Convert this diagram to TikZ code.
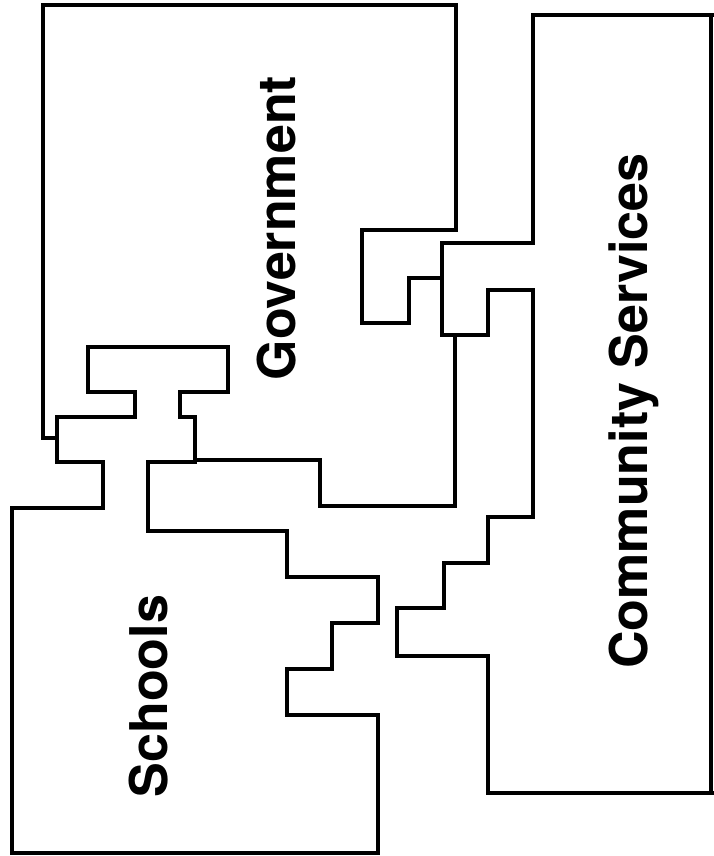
\documentclass[tikz,border=0pt]{standalone}
\usepackage{fontspec}
\setmainfont{TeX Gyre Heros}
\begin{document}
\begin{tikzpicture}[x=1pt,y=-1pt,
  edge/.style={line width=3.2pt,line join=miter,line cap=rect},
  lbl/.style={rotate=90,anchor=base,inner sep=0pt,font=\fontsize{52}{60}\selectfont\bfseries}]
\useasboundingbox (0,0) rectangle (714,856);
% Government outline
\draw[edge] (57,438) -- (43,438) -- (43,5) -- (456,5) -- (456,230) -- (362,230)
  -- (362,323) -- (409,323) -- (409,278) -- (442,278);
% Community Services outline
\draw[edge] (714,15) -- (533,15) -- (533,243) -- (442,243) -- (442,335) -- (488,335)
  -- (488,290) -- (533,290) -- (533,517) -- (488,517) -- (488,563) -- (444,563)
  -- (444,608) -- (397,608) -- (397,656) -- (488,656) -- (488,793) -- (714,793);
\draw[edge] (711,15) -- (711,793);
% Government lower edge, linking piece, and Schools outline
\draw[edge] (455,335) -- (455,506) -- (320,506) -- (320,460) -- (195,460)
  -- (195,417) -- (180,417) -- (180,392) -- (228,392) -- (228,347) -- (88,347)
  -- (88,392) -- (135,392) -- (135,417) -- (57,417) -- (57,462) -- (103,462)
  -- (103,508) -- (12,508) -- (12,853) -- (378,853) -- (378,715) -- (287,715)
  -- (287,669) -- (332,669) -- (332,623) -- (378,623) -- (378,577) -- (287,577)
  -- (287,531) -- (148,531) -- (148,462) -- (195,462);
% Labels
\node[lbl] (gov) at (295,228) {Government};
\node[lbl] (sch) at (167,696) {Schools};
\node[lbl] (com) at (647,411) {Community Services};
\end{tikzpicture}
\end{document}
